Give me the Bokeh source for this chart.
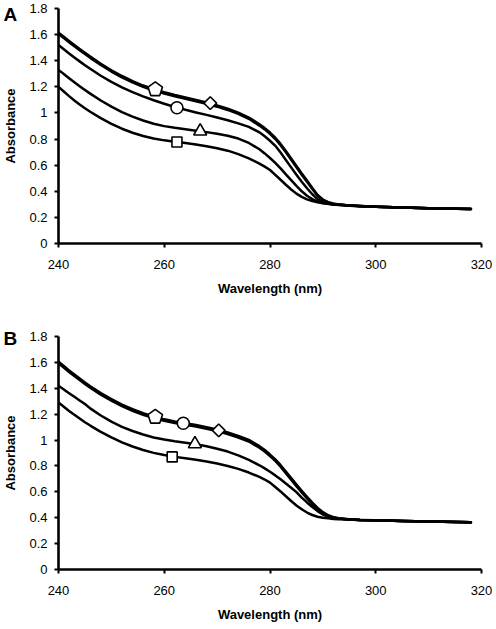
import numpy as np
from bokeh.plotting import figure
from bokeh.layouts import column
from bokeh.models import Range1d, FixedTicker, NumeralTickFormatter, Label
from bokeh.embed import file_html
from bokeh.resources import INLINE

# ---------------- data ----------------
wavelength = [240, 241, 242, 243, 244, 245, 246, 248, 250, 252, 254, 256, 258, 260, 262, 264,
              266, 268, 270, 272, 274, 276, 278, 279, 280, 281, 282, 283, 284, 285, 286, 287,
              288, 289, 290, 291, 292, 293, 295, 297, 300, 305, 310, 318]

# Panel A
a_pentagon = [1.615, 1.583, 1.551, 1.520, 1.490, 1.461, 1.432, 1.377, 1.327, 1.283, 1.244, 1.210,
              1.182, 1.158, 1.137, 1.118, 1.099, 1.080, 1.058, 1.033, 1.003, 0.965, 0.913, 0.884,
              0.850, 0.810, 0.763, 0.709, 0.652, 0.594, 0.537, 0.482, 0.425, 0.372, 0.337, 0.317,
              0.305, 0.298, 0.292, 0.287, 0.281, 0.275, 0.270, 0.264]
a_diamond = [1.605, 1.573, 1.541, 1.510, 1.480, 1.451, 1.422, 1.367, 1.317, 1.273, 1.234, 1.200,
             1.172, 1.148, 1.127, 1.108, 1.089, 1.070, 1.048, 1.023, 0.993, 0.955, 0.903, 0.874,
             0.840, 0.800, 0.753, 0.699, 0.642, 0.584, 0.527, 0.472, 0.417, 0.366, 0.333, 0.315,
             0.304, 0.298, 0.292, 0.287, 0.281, 0.275, 0.270, 0.264]
a_circle = [1.520, 1.488, 1.456, 1.425, 1.395, 1.366, 1.338, 1.285, 1.238, 1.196, 1.160, 1.127,
            1.097, 1.070, 1.046, 1.024, 1.004, 0.985, 0.965, 0.944, 0.920, 0.893, 0.852, 0.822,
            0.787, 0.748, 0.697, 0.640, 0.583, 0.527, 0.473, 0.423, 0.377, 0.341, 0.318, 0.305,
            0.298, 0.294, 0.290, 0.286, 0.281, 0.275, 0.270, 0.264]
a_triangle = [1.330, 1.298, 1.266, 1.235, 1.205, 1.176, 1.148, 1.095, 1.048, 1.007, 0.972, 0.942,
              0.917, 0.899, 0.886, 0.875, 0.864, 0.853, 0.840, 0.825, 0.804, 0.770, 0.722, 0.690,
              0.655, 0.617, 0.575, 0.530, 0.485, 0.441, 0.400, 0.366, 0.340, 0.322, 0.311, 0.304,
              0.299, 0.296, 0.291, 0.286, 0.281, 0.275, 0.270, 0.264]
a_square = [1.200, 1.164, 1.129, 1.096, 1.065, 1.036, 1.009, 0.960, 0.917, 0.879, 0.848, 0.823,
            0.804, 0.790, 0.779, 0.769, 0.758, 0.745, 0.730, 0.711, 0.685, 0.652, 0.612, 0.589,
            0.563, 0.525, 0.488, 0.450, 0.414, 0.382, 0.357, 0.338, 0.325, 0.316, 0.309, 0.304,
            0.300, 0.297, 0.292, 0.287, 0.281, 0.275, 0.270, 0.264]

a_marker_names = ["pentagon", "diamond", "circle", "triangle", "square"]
a_marker_x = [258.3, 268.7, 262.4, 266.8, 262.4]
a_marker_y = [1.18, 1.075, 1.04, 0.86, 0.778]

# Panel B
b_pentagon = [1.606, 1.572, 1.538, 1.506, 1.475, 1.445, 1.416, 1.363, 1.316, 1.274, 1.238, 1.207,
              1.181, 1.160, 1.144, 1.130, 1.116, 1.100, 1.081, 1.059, 1.032, 1.001, 0.953, 0.923,
              0.888, 0.851, 0.806, 0.756, 0.706, 0.656, 0.608, 0.561, 0.516, 0.476, 0.443, 0.419,
              0.404, 0.396, 0.388, 0.383, 0.380, 0.375, 0.371, 0.365]
b_circle = [1.600, 1.566, 1.532, 1.500, 1.469, 1.439, 1.410, 1.357, 1.310, 1.268, 1.232, 1.201,
            1.175, 1.154, 1.138, 1.124, 1.110, 1.094, 1.075, 1.053, 1.026, 0.995, 0.947, 0.917,
            0.882, 0.845, 0.800, 0.750, 0.700, 0.650, 0.602, 0.555, 0.510, 0.470, 0.437, 0.414,
            0.401, 0.394, 0.387, 0.383, 0.380, 0.375, 0.371, 0.365]
b_diamond = [1.594, 1.560, 1.526, 1.494, 1.463, 1.433, 1.404, 1.351, 1.304, 1.262, 1.226, 1.195,
             1.169, 1.148, 1.132, 1.118, 1.104, 1.088, 1.069, 1.047, 1.020, 0.989, 0.941, 0.911,
             0.876, 0.839, 0.794, 0.744, 0.694, 0.644, 0.596, 0.549, 0.504, 0.464, 0.432, 0.410,
             0.399, 0.393, 0.387, 0.383, 0.380, 0.375, 0.371, 0.365]
b_triangle = [1.420, 1.391, 1.362, 1.334, 1.306, 1.279, 1.245, 1.190, 1.142, 1.102, 1.070, 1.043,
              1.020, 1.004, 0.991, 0.980, 0.968, 0.952, 0.933, 0.911, 0.882, 0.847, 0.805, 0.781,
              0.755, 0.727, 0.697, 0.665, 0.632, 0.598, 0.555, 0.518, 0.483, 0.451, 0.425, 0.408,
              0.398, 0.393, 0.387, 0.383, 0.380, 0.375, 0.371, 0.365]
b_square = [1.290, 1.257, 1.225, 1.195, 1.166, 1.138, 1.112, 1.063, 1.020, 0.982, 0.950, 0.923,
            0.901, 0.884, 0.870, 0.859, 0.848, 0.835, 0.819, 0.800, 0.777, 0.749, 0.715, 0.695,
            0.671, 0.637, 0.603, 0.566, 0.529, 0.495, 0.465, 0.440, 0.421, 0.408, 0.400, 0.395,
            0.391, 0.389, 0.386, 0.383, 0.380, 0.375, 0.371, 0.365]

b_marker_names = ["pentagon", "circle", "diamond", "triangle", "square"]
b_marker_x = [258.3, 263.6, 270.3, 265.8, 261.5]
b_marker_y = [1.178, 1.13, 1.075, 0.97, 0.87]

x_ticks = [240, 260, 280, 300, 320]
y_ticks = [0, 0.2, 0.4, 0.6, 0.8, 1.0, 1.2, 1.4, 1.6, 1.8]

FONT = "Liberation Sans"
X_MIN, X_MAX, Y_MIN, Y_MAX = 240, 320, 0, 1.8
LEFT, RIGHT, WIDTH = 58, 15, 496
FRAME_W = WIDTH - LEFT - RIGHT


def make_panel(letter, letter_drop, curves, m_names, m_x, m_y, height, top, bottom):
    frame_h = height - top - bottom
    p = figure(width=WIDTH, height=height, output_backend="svg", toolbar_location=None,
               x_range=Range1d(X_MIN, X_MAX), y_range=Range1d(Y_MIN, Y_MAX),
               min_border_left=LEFT, min_border_right=RIGHT, min_border_top=top,
               min_border_bottom=bottom)
    p.outline_line_color = None
    p.grid.visible = False
    p.background_fill_color = "white"
    p.border_fill_color = "white"

    for c in curves:
        p.line(wavelength, c, line_color="black", line_width=2.5,
               line_join="round", line_cap="round")

    px_x = FRAME_W / (X_MAX - X_MIN)
    px_y = frame_h / (Y_MAX - Y_MIN)
    for name, mx, my in zip(m_names, m_x, m_y):
        if name == "pentagon":
            r = 7.6
            ang = np.pi / 2 + np.arange(5) * 2 * np.pi / 5
            xs = list(mx + r * np.cos(ang) / px_x)
            ys = list(my + r * np.sin(ang) / px_y)
            p.patch(xs, ys, fill_color="white", line_color="black", line_width=1.6)
        elif name == "diamond":
            p.scatter([mx], [my], marker="square", angle=np.pi / 4, size=9,
                      fill_color="white", line_color="black", line_width=1.6)
        elif name == "circle":
            p.scatter([mx], [my], marker="circle", size=12,
                      fill_color="white", line_color="black", line_width=1.6)
        elif name == "triangle":
            p.scatter([mx], [my], marker="triangle", size=13,
                      fill_color="white", line_color="black", line_width=1.6)
        elif name == "square":
            p.scatter([mx], [my], marker="square", size=10,
                      fill_color="white", line_color="black", line_width=1.6)

    for ax in (p.xaxis, p.yaxis):
        ax.axis_line_width = 2.6
        ax.axis_line_color = "black"
        ax.major_tick_line_width = 2
        ax.major_tick_line_color = "black"
        ax.major_tick_in = 0
        ax.major_tick_out = 4
        ax.minor_tick_line_color = None
        ax.major_label_text_font = FONT
        ax.major_label_text_font_size = "13px"
        ax.major_label_text_color = "black"
        ax.axis_label_text_font = FONT
        ax.axis_label_text_font_style = "bold"
        ax.axis_label_text_font_size = "13px"
        ax.axis_label_text_color = "black"

    p.xaxis.ticker = FixedTicker(ticks=x_ticks)
    p.yaxis.ticker = FixedTicker(ticks=y_ticks)
    p.yaxis.formatter = NumeralTickFormatter(format="0.[0]")
    p.xaxis.axis_label = "Wavelength (nm)"
    p.yaxis.axis_label = "Absorbance"
    p.xaxis.major_label_standoff = 12
    p.xaxis.axis_label_standoff = 9
    p.yaxis.major_label_standoff = 7
    p.yaxis.axis_label_standoff = 8

    # panel letter: label hosted in the (otherwise empty) right side panel so it is
    # not clipped to the frame; positioned in data units at the top-left corner
    lab = Label(x=X_MIN - (LEFT - 3) / px_x, y=Y_MAX - letter_drop / px_y, text=letter,
                text_font=FONT, text_font_style="bold", text_font_size="19px",
                text_color="black", text_baseline="middle", text_align="left")
    p.add_layout(lab, "right")
    return p


pa = make_panel("A", 5.5, [a_pentagon, a_diamond, a_circle, a_triangle, a_square],
                a_marker_names, a_marker_x, a_marker_y, height=321, top=8, bottom=78)
pb = make_panel("B", 2, [b_pentagon, b_circle, b_diamond, b_triangle, b_square],
                b_marker_names, b_marker_x, b_marker_y, height=304, top=15, bottom=56)

layout = column(pa, pb, spacing=0)
open("out.html", "w").write(file_html(layout, INLINE))
